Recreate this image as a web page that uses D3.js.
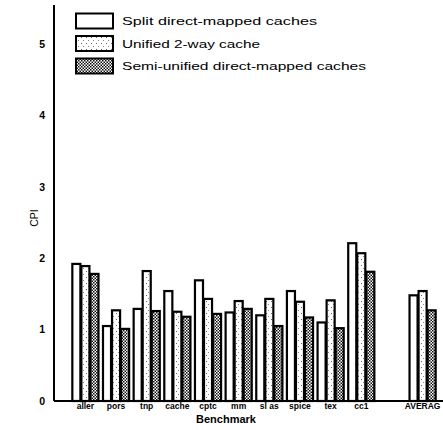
<!DOCTYPE html>
<html><head><meta charset="utf-8">
<script src="https://cdn.jsdelivr.net/npm/d3@7"></script>
<style>body{margin:0;background:#fff}svg{display:block}</style>
</head><body>
<svg id="c" width="443" height="430"></svg>
<script>
const categories = ["aller","pors","tnp","cache","cptc","mm","sl as","spice","tex","cc1","","AVERAG"];
const seriesNames = ["Split direct-mapped caches","Unified 2-way cache","Semi-unified direct-mapped caches"];
const splitDM   = [1.92,1.05,1.29,1.54,1.69,1.24,1.20,1.54,1.10,2.21,null,1.48];
const unified2  = [1.89,1.27,1.82,1.25,1.43,1.40,1.43,1.39,1.41,2.07,null,1.54];
const semiDM    = [1.78,1.01,1.26,1.18,1.22,1.29,1.05,1.17,1.02,1.81,null,1.27];
const yTicks = [0,1,2,3,4,5];

const series = [splitDM, unified2, semiDM];
const FONT = "Liberation Sans, Arial, sans-serif";
const svg = d3.select("#c");
const defs = svg.append("defs");
// sparse stipple
const p1 = defs.append("pattern").attr("id","p1").attr("patternUnits","userSpaceOnUse").attr("width",5).attr("height",6);
p1.append("rect").attr("width",5).attr("height",6).attr("fill","#fff");
p1.append("rect").attr("x",1).attr("y",1).attr("width",1).attr("height",1).attr("fill","#666");
p1.append("rect").attr("x",3).attr("y",4).attr("width",1).attr("height",1).attr("fill","#888");
// dense checker
const p2 = defs.append("pattern").attr("id","p2").attr("patternUnits","userSpaceOnUse").attr("width",3).attr("height",3);
p2.append("rect").attr("width",3).attr("height",3).attr("fill","#fff");
p2.append("rect").attr("x",0).attr("y",0).attr("width",1.5).attr("height",1.5).attr("fill","#111");
p2.append("rect").attr("x",1.5).attr("y",1.5).attr("width",1.5).attr("height",1.5).attr("fill","#111");
const fills = ["#fff","url(#p1)","url(#p2)"];

const x0 = 54, yBase = 401;
const y = d3.scaleLinear().domain([0,5]).range([yBase, 44]);
const x = d3.scaleBand().domain(categories).range([70,438]).paddingInner(0.115).paddingOuter(0.06);
const xs = d3.scaleBand().domain([0,1,2]).range([0, x.bandwidth()]);

const g = svg.append("g");
categories.forEach((c,i)=>{
  series.forEach((s,k)=>{
    const v = s[i];
    if (v==null) return;
    g.append("rect")
      .attr("x", x(c)+xs(k)+0.5)
      .attr("y", y(v))
      .attr("width", xs.bandwidth()-1)
      .attr("height", yBase - y(v))
      .attr("fill", fills[k]).attr("stroke","#000").attr("stroke-width",2.2);
  });
});

// axes
svg.append("line").attr("x1",x0).attr("x2",x0).attr("y1",5).attr("y2",yBase).attr("stroke","#000").attr("stroke-width",2);
svg.append("line").attr("x1",x0).attr("x2",443).attr("y1",yBase).attr("y2",yBase).attr("stroke","#000").attr("stroke-width",2);

const yAxis = d3.axisLeft(y).tickValues(yTicks).tickSize(0).tickPadding(10).tickFormat(d3.format("d"));
const ya = svg.append("g").attr("transform",`translate(${x0+1},0)`).call(yAxis);
ya.select(".domain").remove();
ya.selectAll("text").attr("font-family",FONT).attr("font-size",10.5).attr("font-weight","bold").attr("fill","#000");

const xAxis = d3.axisBottom(x).tickSize(0).tickPadding(4);
const xa = svg.append("g").attr("transform",`translate(0,${yBase})`).call(xAxis);
xa.select(".domain").remove();
xa.selectAll("text").attr("font-family",FONT).attr("font-size",8.5).attr("font-weight","bold").attr("fill","#000").attr("dy","0.5em");

svg.append("text").attr("x",226).attr("y",423).attr("text-anchor","middle")
  .attr("font-family",FONT).attr("font-size",11).attr("font-weight","bold").text("Benchmark");
svg.append("text").attr("transform","translate(38,218) rotate(-90)").attr("text-anchor","middle")
  .attr("font-family",FONT).attr("font-size",10.5).text("CPI");

// legend
const legW = [195, 138, 244];
const leg = svg.append("g");
seriesNames.forEach((n,k)=>{
  const cy = 21 + k*22.5;
  leg.append("rect").attr("x",76).attr("y",cy-7.5).attr("width",37).attr("height",15)
    .attr("fill",fills[k]).attr("stroke","#000").attr("stroke-width",2);
  leg.append("text").attr("x",122).attr("y",cy).attr("dy","0.35em")
    .attr("font-family",FONT).attr("font-size",11.5).attr("fill","#000")
    .attr("textLength",legW[k]).attr("lengthAdjust","spacingAndGlyphs").text(n);
});
</script>
</body></html>
